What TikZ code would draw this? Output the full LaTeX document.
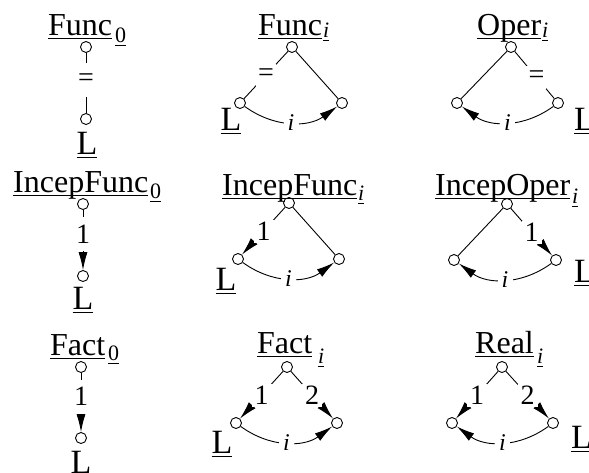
\documentclass[tikz,border=0pt]{standalone}
\usepackage{fontspec}
\setmainfont{Liberation Serif}
\usetikzlibrary{arrows.meta}
\newcommand\ulx[1]{\setbox0\hbox{#1}\leavevmode\rlap{\rule[-3.8pt]{\wd0}{1.3pt}}\box0}
\tikzset{
  pt/.style={circle,draw,line width=0.9pt,minimum size=11pt,inner sep=0pt},
  big/.style={font=\fontsize{32}{32}\selectfont,inner sep=0pt,anchor=base west},
  bigL/.style={font=\fontsize{34}{34}\selectfont,inner sep=0pt,anchor=base west},
  bigc/.style={font=\fontsize{34}{34}\selectfont,inner sep=0pt,anchor=base},
  sub/.style={font=\fontsize{22}{22}\selectfont,inner sep=0pt,anchor=base west},
  lab/.style={fill=white,inner sep=0pt,minimum width=20pt,minimum height=23pt,font=\fontsize{28}{28}\selectfont},
  vlab/.style={lab,minimum height=34pt},
  ilab/.style={fill=white,inner sep=0pt,minimum width=15pt,minimum height=18pt,font=\fontsize{24}{24}\selectfont\itshape},
  ln/.style={line width=0.9pt},
  arr/.style={ln,-{Latex[length=18pt,width=9pt]}}
}
\begin{document}
\begin{tikzpicture}[x=1pt,y=1pt]
\useasboundingbox (0,0) rectangle (589,-472);
% ---------- Func_0
\node[big] (t1) at (48,-35) {\ulx{Func}};
\node[sub] (s1) at (115,-42) {\ulx{0}};
\node[pt] (a1) at (86,-47) {};
\node[pt] (b1) at (86,-119) {};
\draw[ln] (a1) -- node[vlab,pos=0.45]{=} (b1);
\node[bigc] (L1) at (87,-154) {\ulx{L}};
% ---------- Func_i
\node[big] (t2) at (258,-35) {\ulx{Func}};
\node[sub] (s2) at (323,-37) {\ulx{\itshape i}};
\node[pt] (a2) at (292,-47) {};
\node[pt] (l2) at (240,-103) {};
\node[pt] (r2) at (342,-103) {};
\draw[ln] (a2) -- node[lab]{=} (l2);
\draw[ln] (a2) -- (r2);
\draw[arr] (l2) to[bend right=36] node[ilab]{i} (r2);
\node[bigc] (L2) at (231,-130) {\ulx{L}};
% ---------- Oper_i
\node[big] (t3) at (477,-35) {\ulx{Oper}};
\node[sub] (s3) at (542,-37) {\ulx{\itshape i}};
\node[pt] (a3) at (511,-47) {};
\node[pt] (l3) at (457,-103) {};
\node[pt] (r3) at (558,-103) {};
\draw[ln] (a3) -- (l3);
\draw[ln] (a3) -- node[lab,pos=0.55]{=} (r3);
\draw[arr] (r3) to[bend left=36] node[ilab]{i} (l3);
\node[bigL] (L3) at (574,-130) {\ulx{L}};
% ---------- IncepFunc_0
\node[big] (t4) at (13,-192) {\ulx{IncepFunc}};
\node[sub] (s4) at (150,-198) {\ulx{0}};
\node[pt] (a4) at (83,-204) {};
\node[pt] (b4) at (83,-276) {};
\draw[arr] (a4) -- node[vlab,pos=0.4]{1} (b4);
\node[bigc] (L4) at (83,-309) {\ulx{L}};
% ---------- IncepFunc_i
\node[big] (t5) at (222,-195) {\ulx{IncepFunc}};
\node[sub] (s5) at (358,-200) {\ulx{\itshape i}};
\node[pt] (a5) at (289,-203) {};
\node[pt] (l5) at (238,-259) {};
\node[pt] (r5) at (339,-259) {};
\draw[arr] (a5) -- node[lab]{1} (l5);
\draw[ln] (a5) -- (r5);
\draw[arr] (l5) to[bend right=36] node[ilab]{i} (r5);
\node[bigc] (L5) at (226,-290) {\ulx{L}};
% ---------- IncepOper_i
\node[big] (t6) at (435,-195) {\ulx{IncepOper}};
\node[sub] (s6) at (572,-203) {\ulx{\itshape i}};
\node[pt] (a6) at (507,-204) {};
\node[pt] (l6) at (454,-260) {};
\node[pt] (r6) at (556,-260) {};
\draw[ln] (a6) -- (l6);
\draw[arr] (a6) -- node[lab]{1} (r6);
\draw[arr] (r6) to[bend left=36] node[ilab]{i} (l6);
\node[bigL] (L6) at (574,-282) {\ulx{L}};
% ---------- Fact_0
\node[big] (t7) at (50,-355) {\ulx{Fact}};
\node[sub] (s7) at (108,-360) {\ulx{0}};
\node[pt] (a7) at (81,-367) {};
\node[pt] (b7) at (81,-438) {};
\draw[arr] (a7) -- node[vlab,pos=0.4]{1} (b7);
\node[bigc] (L7) at (81,-473) {\ulx{L}};
% ---------- Fact_i
\node[big] (t8) at (257,-353) {\ulx{Fact}};
\node[sub] (s8) at (318,-363) {\ulx{\itshape i}};
\node[pt] (a8) at (287,-367) {};
\node[pt] (l8) at (236,-423) {};
\node[pt] (r8) at (337,-423) {};
\draw[arr] (a8) -- node[lab]{1} (l8);
\draw[arr] (a8) -- node[lab]{2} (r8);
\draw[arr] (l8) to[bend right=36] node[ilab]{i} (r8);
\node[bigc] (L8) at (222,-453) {\ulx{L}};
% ---------- Real_i
\node[big] (t9) at (475,-353) {\ulx{Real}};
\node[sub] (s9) at (537,-363) {\ulx{\itshape i}};
\node[pt] (a9) at (502,-367) {};
\node[pt] (l9) at (452,-423) {};
\node[pt] (r9) at (553,-423) {};
\draw[arr] (a9) -- node[lab]{1} (l9);
\draw[arr] (a9) -- node[lab]{2} (r9);
\draw[arr] (r9) to[bend left=36] node[ilab]{i} (l9);
\node[bigL] (L9) at (571,-448) {\ulx{L}};
\end{tikzpicture}
\end{document}
